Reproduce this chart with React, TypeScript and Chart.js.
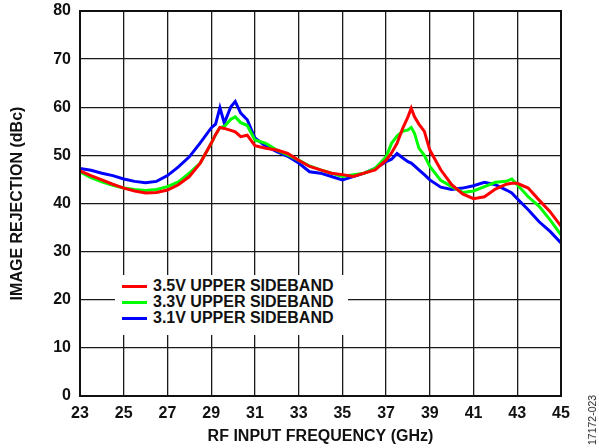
import React, { useEffect, useRef } from "react";
import { Chart, registerables } from "chart.js";

Chart.register(...registerables);

const freqGHz = [
  23, 23.5, 24, 24.5, 25, 25.5, 26, 26.5, 27, 27.5, 28, 28.5, 29, 29.2, 29.4, 29.6, 29.9, 30.1, 30.35, 30.65,
  31, 31.5, 32, 32.5, 33, 33.5, 34, 34.5, 35, 35.5, 36, 36.5, 37, 37.25, 37.5, 37.75, 38, 38.15, 38.3, 38.5,
  38.75, 39, 39.5, 40, 40.5, 41, 41.5, 42, 42.5, 42.75, 43, 43.5, 44, 44.5, 45,
];

const rej35V = [
  46.8, 45.8, 44.9, 44.0, 43.2, 42.6, 42.2, 42.3, 42.8, 43.9, 45.6, 48.4, 52.5, 54.3, 55.8, 55.6, 55.2, 54.9, 53.9, 54.2,
  52.0, 51.5, 51.1, 50.4, 49.0, 47.7, 47.0, 46.3, 46.0, 45.6, 46.3, 47.0, 49.0, 50.5, 52.5, 55.5, 58.0, 59.8, 58.0, 56.5,
  55.0, 51.1, 47.0, 43.9, 42.0, 41.0, 41.4, 43.0, 44.0, 44.2, 44.2, 43.2, 40.7, 38.3, 35.3,
];

const rej33V = [
  46.6, 45.4, 44.5, 43.8, 43.2, 42.9, 42.7, 42.9, 43.5, 44.5, 46.3, 48.4, 52.5, 54.3, 55.8, 56.0, 57.5, 58.0, 56.8, 56.2,
  53.2, 52.5, 51.1, 50.1, 49.0, 47.8, 47.0, 46.3, 45.6, 46.0, 46.3, 47.3, 49.7, 52.5, 54.0, 55.0, 55.3, 55.8, 54.6, 51.5,
  50.0, 47.7, 44.8, 43.5, 42.3, 42.6, 43.5, 44.4, 44.6, 45.1, 43.9, 41.4, 39.4, 36.6, 33.5,
];

const rej31V = [
  47.3, 46.9, 46.3, 45.8, 45.1, 44.6, 44.3, 44.6, 45.8, 47.6, 49.7, 52.6, 55.7, 56.5, 59.9, 56.7, 60.1, 61.2, 58.8, 57.4,
  53.6, 51.9, 50.8, 49.8, 48.4, 46.6, 46.3, 45.6, 44.9, 45.6, 46.3, 47.3, 48.7, 49.2, 50.4, 49.5, 48.7, 48.4, 47.8, 47.0,
  46.0, 44.9, 43.4, 42.9, 43.2, 43.7, 44.4, 43.9, 42.8, 42.2, 41.0, 38.7, 36.2, 34.2, 31.8,
];

const seriesLabels = ["3.5V UPPER SIDEBAND", "3.3V UPPER SIDEBAND", "3.1V UPPER SIDEBAND"];
const seriesColors = ["#ff0000", "#00ff00", "#0000ff"];
const seriesValues = [rej35V, rej33V, rej31V];

const xTitle = "RF INPUT FREQUENCY (GHz)";
const yTitle = "IMAGE REJECTION (dBc)";
const figureId = "17172-023";

const FONT = "'Liberation Sans', Arial, Helvetica, sans-serif";

const framePlugin = {
  id: "frame",
  afterDatasetsDraw(chart: any) {
    const { ctx, chartArea } = chart;
    ctx.save();
    ctx.strokeStyle = "#111";
    ctx.lineWidth = 2;
    ctx.strokeRect(chartArea.left, chartArea.top, chartArea.right - chartArea.left, chartArea.bottom - chartArea.top);
    ctx.restore();
  },
};

export default function App() {
  const canvasRef = useRef<HTMLCanvasElement | null>(null);

  useEffect(() => {
    if (!canvasRef.current) return;
    const chart = new Chart(canvasRef.current, {
      type: "line",
      data: {
        datasets: seriesValues.map((vals, i) => ({
          label: seriesLabels[i],
          data: vals.map((v, j) => ({ x: freqGHz[j], y: v })),
          borderColor: seriesColors[i],
          backgroundColor: seriesColors[i],
          borderWidth: 3,
          pointRadius: 0,
          tension: 0,
          fill: false,
        })),
      },
      options: {
        animation: false,
        responsive: false,
        maintainAspectRatio: false,
        layout: { padding: { left: 0, top: 11, right: 38, bottom: 0 } },
        plugins: { legend: { display: false }, tooltip: { enabled: false } },
        scales: {
          x: {
            type: "linear",
            min: 23,
            max: 45,
            afterFit: (s: any) => {
              s.height = 52;
              s.paddingLeft = 0;
              s.paddingRight = 0;
            },
            ticks: {
              stepSize: 2,
              padding: 8,
              color: "#111",
              font: { family: FONT, size: 16, weight: "bold" },
              maxRotation: 0,
              autoSkip: false,
            },
            grid: { color: "#1a1a1a", lineWidth: 1.3, drawTicks: false },
            border: { color: "#111", width: 2 },
            title: {
              display: true,
              text: xTitle,
              color: "#111",
              font: { family: FONT, size: 16, weight: "bold" },
              padding: { top: 0, bottom: 1.5 },
            },
          },
          y: {
            type: "linear",
            min: 0,
            max: 80,
            afterFit: (s: any) => {
              s.width = 80;
              s.paddingTop = 0;
              s.paddingBottom = 0;
            },
            ticks: {
              stepSize: 10,
              padding: 9,
              color: "#111",
              font: { family: FONT, size: 16, weight: "bold" },
            },
            grid: { color: "#1a1a1a", lineWidth: 1.3, drawTicks: false },
            border: { color: "#111", width: 2 },
            title: {
              display: true,
              text: yTitle,
              color: "#111",
              font: { family: FONT, size: 16, weight: "bold" },
              padding: { top: 7.5, bottom: 0 },
            },
          },
        },
      },
      plugins: [framePlugin],
    });
    return () => chart.destroy();
  }, []);

  return (
    <div style={{ position: "fixed", left: 0, top: 0, width: 599, height: 448, background: "#fff" }}>
      <canvas ref={canvasRef} width={599} height={448} style={{ width: 599, height: 448, display: "block" }} />
      <div
        style={{
          position: "absolute",
          left: 115,
          top: 275,
          width: 233,
          height: 60,
          background: "#fff",
          fontFamily: FONT,
          fontWeight: "bold",
          fontSize: 16,
          color: "#111",
        }}
      >
        {seriesLabels.map((lab, i) => (
          <div
            key={lab}
            style={{ position: "absolute", left: 0, top: 3 + i * 16, height: 16, display: "flex", alignItems: "center", whiteSpace: "nowrap" }}
          >
            <span style={{ display: "inline-block", width: 25, height: 3, marginLeft: 7, marginRight: 6, background: seriesColors[i] }} />
            <span style={{ lineHeight: "16px" }}>{lab}</span>
          </div>
        ))}
      </div>
      <div
        style={{
          position: "absolute",
          left: 591.5,
          top: 420,
          transform: "translate(-50%, -50%) rotate(-90deg)",
          fontFamily: FONT,
          fontSize: 10.5,
          color: "#222",
          whiteSpace: "nowrap",
        }}
      >
        {figureId}
      </div>
    </div>
  );
}
